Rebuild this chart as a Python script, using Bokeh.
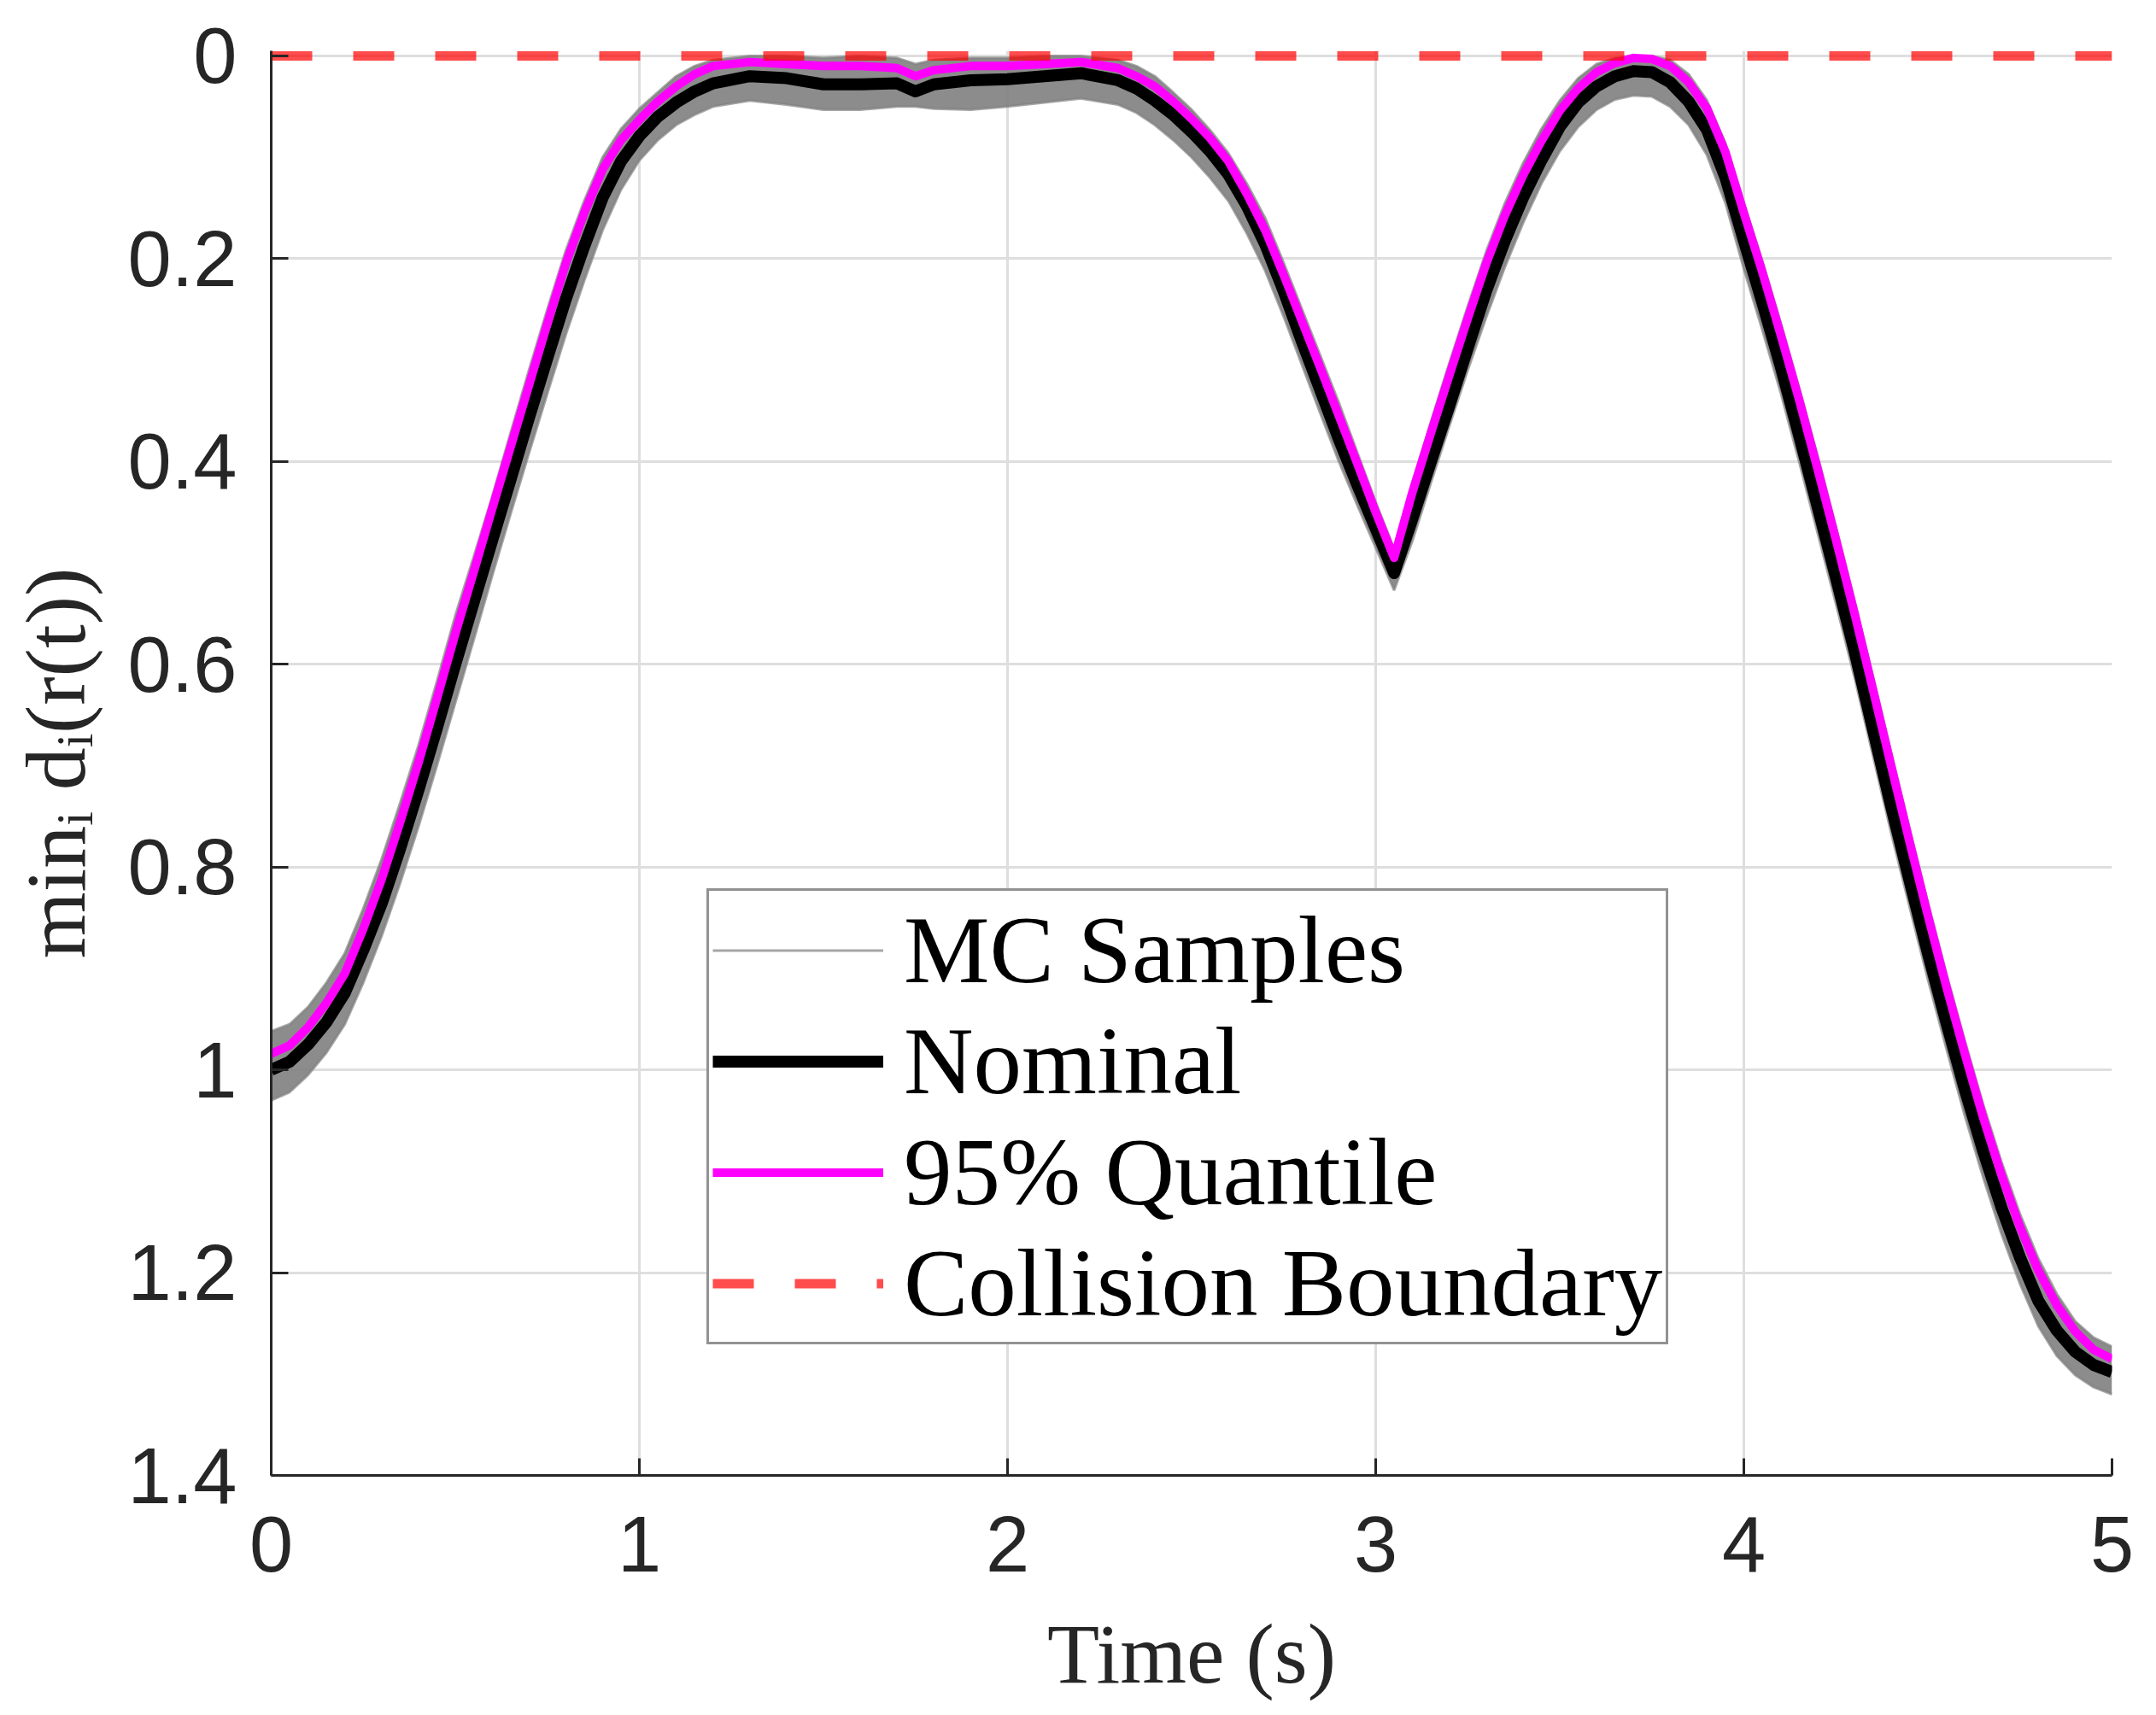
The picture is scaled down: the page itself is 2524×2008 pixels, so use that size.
from bokeh.plotting import figure
from bokeh.models import Range1d, FixedTicker, CustomJSTickFormatter, Legend, LegendItem
from bokeh.embed import file_html
from bokeh.resources import INLINE

# values (y axis is min_i d_i, drawn reversed)
time_s = [0.0, 0.05, 0.1, 0.15, 0.2, 0.25, 0.3, 0.35, 0.4, 0.45, 0.5, 0.55,
          0.6, 0.65, 0.7, 0.75, 0.8, 0.85, 0.9, 0.95, 1.0, 1.05, 1.1, 1.15, 1.2,
          1.3, 1.4, 1.5, 1.6, 1.7, 1.75, 1.8, 1.9, 2.0, 2.1, 2.2, 2.3,
          2.35, 2.4, 2.45, 2.5, 2.55, 2.6, 2.65, 2.7, 2.75, 2.8, 2.85, 2.9, 2.95, 3.0,
          3.05, 3.1, 3.15, 3.2, 3.25, 3.3, 3.35, 3.4, 3.45, 3.5,
          3.55, 3.6, 3.65, 3.7, 3.75, 3.8, 3.85, 3.9, 3.95, 4.0,
          4.05, 4.1, 4.15, 4.2, 4.25, 4.3, 4.35, 4.4, 4.45, 4.5,
          4.55, 4.6, 4.65, 4.7, 4.75, 4.8, 4.85, 4.9, 4.95, 5.0]

nominal = [1.000, 0.992, 0.975, 0.953, 0.924, 0.882, 0.836, 0.782, 0.724, 0.663, 0.600, 0.539,
           0.478, 0.418, 0.357, 0.298, 0.240, 0.188, 0.140, 0.104, 0.079, 0.060, 0.046, 0.035, 0.027,
           0.020, 0.022, 0.028, 0.028, 0.027, 0.035, 0.028, 0.024, 0.023, 0.020, 0.017, 0.024,
           0.032, 0.044, 0.058, 0.075, 0.094, 0.117, 0.148, 0.186, 0.232, 0.282, 0.330, 0.378, 0.423, 0.466,
           0.510, 0.456, 0.400, 0.345, 0.288, 0.232, 0.183, 0.140, 0.103, 0.070,
           0.046, 0.030, 0.020, 0.015, 0.016, 0.026, 0.045, 0.073, 0.120, 0.182,
           0.243, 0.306, 0.374, 0.444, 0.514, 0.586, 0.663, 0.740, 0.813, 0.885,
           0.953, 1.019, 1.080, 1.136, 1.185, 1.228, 1.257, 1.278, 1.291, 1.298]

quantile_95 = [0.984, 0.976, 0.958, 0.934, 0.905, 0.861, 0.812, 0.756, 0.697, 0.634, 0.570, 0.509,
               0.447, 0.386, 0.325, 0.264, 0.205, 0.155, 0.112, 0.083, 0.063, 0.045, 0.030, 0.018, 0.010,
               0.006, 0.008, 0.010, 0.010, 0.012, 0.020, 0.014, 0.010, 0.010, 0.008, 0.006, 0.012,
               0.020, 0.030, 0.045, 0.062, 0.081, 0.104, 0.136, 0.172, 0.216, 0.262, 0.308, 0.355, 0.402, 0.450,
               0.495, 0.430, 0.372, 0.315, 0.259, 0.205, 0.158, 0.118, 0.084, 0.054,
               0.032, 0.016, 0.007, 0.002, 0.003, 0.010, 0.026, 0.052, 0.095, 0.155,
               0.213, 0.275, 0.339, 0.407, 0.477, 0.549, 0.624, 0.700, 0.775, 0.848,
               0.918, 0.984, 1.047, 1.104, 1.155, 1.198, 1.232, 1.258, 1.276, 1.285]

# envelope of the Monte Carlo sample traces
mc_min = [0.962, 0.955, 0.938, 0.914, 0.885, 0.841, 0.792, 0.737, 0.680, 0.617, 0.552, 0.494,
          0.435, 0.372, 0.310, 0.250, 0.192, 0.143, 0.100, 0.072, 0.052, 0.036, 0.020, 0.010, 0.004,
          0.000, 0.000, 0.002, 0.000, 0.002, 0.008, 0.004, 0.002, 0.002, 0.000, 0.000, 0.004,
          0.010, 0.020, 0.036, 0.053, 0.073, 0.096, 0.126, 0.160, 0.204, 0.250, 0.296, 0.342, 0.391, 0.440,
          0.486, 0.420, 0.361, 0.303, 0.247, 0.193, 0.146, 0.106, 0.072, 0.044,
          0.022, 0.008, 0.002, 0.000, 0.000, 0.004, 0.018, 0.044, 0.086, 0.145,
          0.202, 0.263, 0.327, 0.394, 0.464, 0.536, 0.611, 0.687, 0.762, 0.835,
          0.905, 0.971, 1.034, 1.091, 1.142, 1.186, 1.221, 1.248, 1.264, 1.273]

mc_max = [1.030, 1.022, 1.005, 0.983, 0.955, 0.914, 0.868, 0.816, 0.760, 0.700, 0.638, 0.576,
          0.513, 0.452, 0.392, 0.333, 0.275, 0.222, 0.172, 0.132, 0.103, 0.083, 0.068, 0.058, 0.050,
          0.044, 0.048, 0.053, 0.053, 0.050, 0.050, 0.052, 0.053, 0.050, 0.046, 0.042, 0.048,
          0.056, 0.068, 0.083, 0.100, 0.120, 0.143, 0.175, 0.212, 0.257, 0.305, 0.353, 0.400, 0.443, 0.485,
          0.527, 0.478, 0.421, 0.365, 0.310, 0.258, 0.209, 0.165, 0.126, 0.094,
          0.070, 0.053, 0.043, 0.039, 0.040, 0.050, 0.068, 0.098, 0.145, 0.210,
          0.270, 0.332, 0.400, 0.470, 0.540, 0.612, 0.689, 0.766, 0.839, 0.911,
          0.979, 1.045, 1.106, 1.162, 1.211, 1.253, 1.282, 1.301, 1.313, 1.320]

boundary_t = [0, 5]
boundary_d = [0, 0]

x_ticks = [0, 1, 2, 3, 4, 5]
y_ticks = [0, 0.2, 0.4, 0.6, 0.8, 1, 1.2, 1.4]

dark = "#262626"

# frame reaches a few px above d=0 so the thick dashed boundary is not cut in half
p = figure(frame_width=2155, frame_height=1668,
           min_border_left=317, min_border_right=36, min_border_top=59, min_border_bottom=265,
           x_range=Range1d(0, 5), y_range=Range1d(1.4, -0.00505),
           output_backend="svg", toolbar_location=None)
p.outline_line_color = None

p.xaxis.axis_label = "Time (s)"
p.yaxis.axis_label = "minᵢ dᵢ(r(t))"
p.xaxis.ticker = FixedTicker(ticks=x_ticks)
p.yaxis.ticker = FixedTicker(ticks=y_ticks)
p.yaxis.formatter = CustomJSTickFormatter(code="return String(Math.round(tick * 10) / 10)")

p.axis.axis_line_color = dark
p.axis.axis_line_width = 3
p.axis.major_tick_line_color = dark
p.axis.major_tick_line_width = 3
p.axis.major_tick_in = 20
p.axis.major_tick_out = 0
p.axis.minor_tick_line_color = None
p.axis.major_label_text_font = "Liberation Sans"
p.axis.major_label_text_font_size = "92px"
p.axis.major_label_text_color = dark
p.axis.axis_label_text_font = "Liberation Serif"
p.axis.axis_label_text_font_style = "normal"
p.axis.axis_label_text_font_size = "100px"
p.axis.axis_label_text_color = dark
p.xaxis.major_label_standoff = 48
p.yaxis.major_label_standoff = 40
p.xaxis.axis_label_standoff = 38
p.yaxis.axis_label_standoff = 26

p.grid.grid_line_color = "#dedede"
p.grid.grid_line_width = 3

# MC samples spread
p.varea(x=time_s, y1=mc_min, y2=mc_max, fill_color="#808080", fill_alpha=0.9)
mc_line = p.line(time_s, mc_min, line_color="#808080", line_width=3, line_alpha=0.7)
p.line(time_s, mc_max, line_color="#808080", line_width=3, line_alpha=0.7)

nom_line = p.line(time_s, nominal, line_color="black", line_width=14, line_join="round")
q_line = p.line(time_s, quantile_95, line_color="#FF00FF", line_width=10, line_join="round")

bnd_line = p.line(boundary_t, boundary_d, line_color="red", line_alpha=0.7,
                  line_width=11, line_dash="48 48")

legend = Legend(items=[
    LegendItem(label="MC Samples", renderers=[mc_line]),
    LegendItem(label="Nominal", renderers=[nom_line]),
    LegendItem(label="95% Quantile", renderers=[q_line]),
    LegendItem(label="Collision Boundary", renderers=[bnd_line]),
], location=(510, 153))
legend.label_text_font = "Liberation Serif"
legend.label_text_font_size = "113px"
legend.label_text_color = "black"
legend.label_height = 127
legend.glyph_height = 127
legend.glyph_width = 200
legend.label_standoff = 24
legend.spacing = 0
legend.padding = 4
legend.margin = 0
legend.border_line_color = dark
legend.border_line_width = 3
legend.background_fill_alpha = 1
p.add_layout(legend)

open("out.html", "w").write(file_html(p, INLINE))
